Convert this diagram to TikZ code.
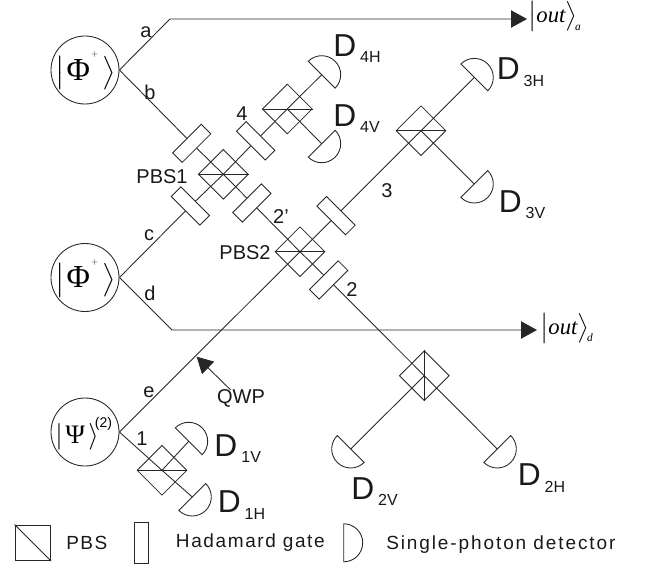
\documentclass[tikz,border=0pt]{standalone}
\usepackage{fontspec}
\setmainfont{Liberation Sans}
\newfontfamily\tmsfont{Liberation Serif}
\usetikzlibrary{shapes.geometric,backgrounds,arrows.meta}
\newcommand{\detlabel}[3]{{\fontsize{23.8}{24}\selectfont #1}\kern#3pt\raisebox{-5.2pt}{\fontsize{12}{12}\selectfont #2}}
\newcommand{\outket}[1]{\scalebox{1.85}{$\big|$}\kern0pt{\fontsize{17}{17}\selectfont\tmsfont\itshape out}\kern0pt\scalebox{1.85}{$\big\rangle$}\kern-1.5pt\raisebox{-5.6pt}{\fontsize{8.5}{9}\selectfont\tmsfont\itshape #1}}
\newcommand{\phiket}{\scalebox{2.1}{$\big|$}\kern1.5pt{\fontsize{24}{24}\selectfont\tmsfont Φ}\kern1pt\raisebox{16pt}{\color{black!60}\fontsize{9}{9}\selectfont\tmsfont +}\kern3.5pt\scalebox{2.1}{$\big\rangle$}}
\newcommand{\psiket}{\scalebox{2}{$|$}\kern2pt{\fontsize{20}{20}\selectfont\tmsfont Ψ}\kern2.5pt\scalebox{2}{$\rangle$}}
\tikzset{
  ln/.style={line width=0.65pt,draw=black!85},
  srccircle/.style={circle,ln,minimum size=51pt,inner sep=0pt},
  pbsbox/.style={diamond,ln,minimum width=37.5pt,minimum height=37.5pt,aspect=1,inner sep=0pt},
  hgate/.style={rectangle,ln,fill=white,minimum width=30.4pt,minimum height=10.2pt,inner sep=0pt},
  lbl/.style={inner sep=0pt,font=\fontsize{15}{16}\selectfont,text=black!90},
  dlbl/.style={inner sep=0pt,anchor=base west,text=black!90},
  kett/.style={inner sep=0pt,anchor=base west},
  leg/.style={inner sep=0pt,anchor=base west,text=black!90,font=\fontsize{14.25}{16}\selectfont\addfontfeatures{LetterSpace=#1}},
  fwd/.style={ln,-{Triangle[length=12pt,width=13pt]}}
}
\newcommand{\detector}[4]{%
  \coordinate (#1) at (#2,#3);
  \draw[ln] (#1) ++(#4-90:19) arc[start angle=#4-90,end angle=#4+90,radius=19] -- cycle;}
\begin{document}
\begin{tikzpicture}[x=0.75pt,y=-0.75pt]
\useasboundingbox (0,0) rectangle (649,567);
% sources
\node[srccircle] (phia) at (85,70) {};
\node[srccircle] (phib) at (85,277.5) {};
\node[srccircle] (psi) at (85,432) {};
\node[kett] (keta) at (55,80) {\phiket};
\node[kett] (ketb) at (55,287.5) {\phiket};
\node[kett] (ketc) at (55,443) {\psiket};
\node[inner sep=0pt,font=\fontsize{10.5}{12}\selectfont] (ketsup) at (103.5,424) {(2)};
% beam splitters
\node[pbsbox] (pbs1) at (223.3,174.3) {};
\node[pbsbox] (pbs2) at (300,251.7) {};
\node[pbsbox] (pbs4) at (287.3,109) {};
\node[pbsbox] (pbs3) at (421,130.7) {};
\node[pbsbox] (pbsd2) at (424.3,375.7) {};
\node[pbsbox] (pbsd1) at (162,470.3) {};
\draw[ln] (pbs1.west) -- (pbs1.east);
\draw[ln] (pbs2.west) -- (pbs2.east);
\draw[ln] (pbs4.west) -- (pbs4.east);
\draw[ln] (pbs3.west) -- (pbs3.east);
\draw[ln] (pbsd1.west) -- (pbsd1.east);
\draw[ln] (pbsd2.north) -- (pbsd2.south);
% Hadamard gates
\node[hgate,rotate=45] (h1) at (191.7,143.3) {};
\node[hgate,rotate=-45] (h2) at (190.4,206) {};
\node[hgate,rotate=-45] (h3) at (255.7,140.8) {};
\node[hgate,rotate=45] (h4) at (251.8,203) {};
\node[hgate,rotate=-45] (h5) at (336,215.7) {};
\node[hgate,rotate=45] (h6) at (328.7,280) {};
% detectors
\detector{d4h}{321.7}{74.7}{-45}
\detector{d4v}{321.7}{143.7}{45}
\detector{d3h}{474.3}{77.4}{-45}
\detector{d3v}{474.3}{184}{45}
\detector{d2v}{350.7}{449}{135}
\detector{d2h}{497.3}{449}{45}
\detector{d1v}{188.7}{441.3}{-45}
\detector{d1h}{192.3}{497}{45}
% free bends and ends
\coordinate (abend) at (170,19);
\coordinate (aend) at (527,19);
\coordinate (dbend) at (172,330);
\coordinate (dend) at (537,330);
\coordinate (qwptip) at (196.7,356.7);
\coordinate (qwpfoot) at (230.7,390);
\begin{pgfonlayer}{background}
\draw[fwd] (phia.east) -- (abend) -- (aend);
\draw[fwd] (phib.east) -- (dbend) -- (dend);
\draw[ln] (phia.east) -- (h1.center) -- (pbs1.center) -- (h4.center) -- (pbs2.center) -- (h6.center) -- (pbsd2.center) -- (d2h);
\draw[ln] (phib.east) -- (h2.center) -- (pbs1.center) -- (h3.center) -- (pbs4.center) -- (d4h);
\draw[ln] (pbs4.center) -- (d4v);
\draw[ln] (psi.east) -- (pbs2.center) -- (h5.center) -- (pbs3.center) -- (d3h);
\draw[ln] (pbs3.center) -- (d3v);
\draw[ln] (pbsd2.center) -- (d2v);
\draw[ln] (psi.east) -- (pbsd1.center) -- (d1h);
\draw[ln] (pbsd1.center) -- (d1v);
\end{pgfonlayer}
\draw[ln,-{Triangle[length=12pt,width=13pt]}] (qwpfoot) -- (qwptip);
% labels
\node[lbl] (la) at (146,32) {a};
\node[lbl] (lb) at (150,92) {b};
\node[lbl] (lc) at (149,235) {c};
\node[lbl] (ld) at (150,293) {d};
\node[lbl] (le) at (149,392) {e};
\node[lbl] (l1) at (142,439) {1};
\node[lbl] (l4) at (242,114) {4};
\node[lbl] (l2p) at (281,217) {2'};
\node[lbl] (l3) at (387,191) {3};
\node[lbl] (l2) at (352,290) {2};
\node[lbl] (lp1) at (162,177) {PBS1};
\node[lbl] (lp2) at (245,253) {PBS2};
\node[lbl] (lq) at (241,398) {QWP};
\node[dlbl] (t4h) at (333,56) {\detlabel{D}{4H}{3}};
\node[dlbl] (t4v) at (333,126) {\detlabel{D}{4V}{3}};
\node[dlbl] (t3h) at (496.5,79.3) {\detlabel{D}{3H}{3}};
\node[dlbl] (t3v) at (498.5,212) {\detlabel{D}{3V}{3}};
\node[dlbl] (t2v) at (351,499) {\detlabel{D}{2V}{3}};
\node[dlbl] (t2h) at (517.5,485.7) {\detlabel{D}{2H}{3}};
\node[dlbl] (t1v) at (214.2,456) {\detlabel{D}{1V}{3}};
\node[dlbl] (t1h) at (217.5,512.7) {\detlabel{D}{1H}{3}};
\node[kett] (outa) at (528,22.7) {\outket{a}};
\node[kett] (outd) at (540,334.5) {\outket{d}};
% legend
\node[rectangle,ln,minimum size=26.8pt,inner sep=0pt] (legp) at (32.8,542.8) {};
\draw[ln] (legp.north west) -- (legp.south east);
\node[leg=8] (tp) at (66,549.3) {PBS};
\node[rectangle,ln,minimum width=10.2pt,minimum height=30.8pt,inner sep=0pt] (legh) at (141.5,542.8) {};
\node[leg=8.5] (th) at (175.7,547.7) {Hadamard gate};
\coordinate (legd) at (343.7,542.8);
\draw[ln] (legd) ++(-90:19) arc[start angle=-90,end angle=90,radius=19] -- cycle;
\node[leg=10] (ts) at (386,549.3) {Single-photon detector};
\end{tikzpicture}
\end{document}
